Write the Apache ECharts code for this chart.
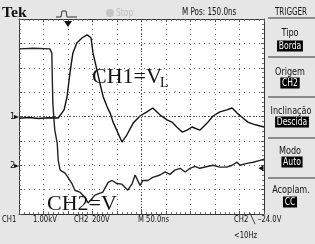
<!DOCTYPE html>
<html>
<head>
<meta charset="utf-8">
<script src="https://cdn.jsdelivr.net/npm/echarts@6/dist/echarts.min.js"></script>
<style>
  html, body { margin: 0; background: #e6e6e6; }
  #scope { width: 315px; height: 244px; }
</style>
</head>
<body>
<div id="scope"></div>
<script>
// time base 50 ns/div, 10 divisions on screen
const timeMax = 500
const timeStep = 50
// CH1: 1.00 kV/div, ground at centre
const ch1Time = [0, 20, 40, 60, 80, 84, 92, 98, 104, 110, 118, 129, 139, 143, 147, 151, 159, 165, 172, 180, 186, 192, 202, 210, 220, 233, 247, 261, 273, 288, 302, 312, 322, 333, 343, 353, 369, 384, 396, 410, 424, 435, 445, 457, 467, 478, 492, 500]
const ch1kV = [-0.07, -0.04, -0.08, -0.05, -0.06, -0.05, 0.27, 0.8, 1.79, 2.61, 3.02, 3.23, 3.35, 3.35, 3.23, 2.61, 1.91, 1.38, 0.8, 0.39, 0.14, -0.23, -0.68, -1.05, -0.76, -0.27, 0.02, 0.19, 0.35, 0.06, -0.14, -0.23, -0.43, -0.64, -0.56, -0.43, -0.56, -0.27, 0.02, 0.19, 0.27, 0.35, 0.14, -0.06, -0.23, -0.31, -0.39, -0.43]
// CH2: 200 V/div, ground two divisions below centre
const ch2Time = [0, 30, 63, 67, 69, 73, 78, 80, 84, 94, 100, 108, 114, 124, 135, 141, 155, 171, 182, 190, 200, 210, 222, 231, 237, 247, 253, 263, 273, 288, 298, 308, 318, 329, 339, 349, 359, 369, 384, 396, 410, 424, 435, 445, 451, 465, 478, 492, 500]
const ch2V = [955, 960, 955, 920, 510, 290, 180, 40, -40, -65, -100, -150, -205, -220, -265, -310, -245, -220, -140, -125, -150, -155, -205, -150, -80, -165, -125, -125, -100, -80, -55, -75, -40, -25, -55, -25, -10, -25, -10, 0, -15, -15, 0, 25, 0, 15, 25, 40, 50]
const ch1Scale = 1.0
const ch2Scale = 200
const ch2Ground = -2
const triggerTime = 100
const triggerLevel = -24

const narrow = '"Liberation Sans Narrow", "DejaVu Sans Condensed", "Liberation Sans", sans-serif'
const serif = '"Liberation Serif", "DejaVu Serif", serif'

const edgeAxis = (extra) => Object.assign({
  type: 'value', min: 0, max: timeMax, interval: timeStep,
  axisLine: { show: true, onZero: false, lineStyle: { color: '#333', width: 1 } },
  axisTick: { show: true, inside: true, length: 3, lineStyle: { color: '#555' } },
  minorTick: { show: true, splitNumber: 5, length: 2, lineStyle: { color: '#777' } },
  axisLabel: { show: false }, splitLine: { show: false }
}, extra)
const edgeY = (extra) => edgeAxis(Object.assign({ min: -4, max: 4, interval: 1 }, extra))

// status/menu text is a condensed bitmap-like sans, so squeeze it
const txt = (x, y, text, opt = {}, sx = 0.8) => ({
  type: 'text', x, y, z: 20, scaleX: sx,
  style: Object.assign({ text, fill: '#111', font: '9.5px ' + narrow, textVerticalAlign: 'middle' }, opt)
})
const big = (x, y, text, size) => txt(x, y, text, { font: size + 'px ' + serif }, 1)
const menu = (x, y, text) => txt(x, y, text, { textAlign: 'center', font: '10px ' + narrow }, 0.9)
const box = (x, y, text) => txt(x, y, text, { fill: '#fff', backgroundColor: '#000', padding: [1, 2, 0, 2], textAlign: 'center', font: '10px ' + narrow }, 0.85)
const sep = (y) => ({ type: 'line', shape: { x1: 268, y1: y, x2: 315, y2: y }, style: { stroke: '#333', lineWidth: 1 }, z: 20 })

const chart = echarts.init(document.getElementById('scope'), null, { renderer: 'canvas' })
chart.setOption({
  backgroundColor: '#e6e6e6',
  animation: false,
  grid: { left: 19, top: 19, width: 245, height: 195, show: true, backgroundColor: '#fff', borderWidth: 0 },
  xAxis: [
    { type: 'value', min: 0, max: timeMax, interval: timeStep, axisLine: { show: false }, axisTick: { show: false },
      axisLabel: { show: false }, splitLine: { show: true, lineStyle: { color: '#666', type: [1, 4], width: 1 } } },
    edgeAxis({ position: 'top' }),
    edgeAxis({ position: 'bottom' })
  ],
  yAxis: [
    { type: 'value', min: -4, max: 4, interval: 1, axisLine: { show: false }, axisTick: { show: false },
      axisLabel: { show: false }, splitLine: { show: true, lineStyle: { color: '#666', type: [1, 4], width: 1 } } },
    edgeY({ position: 'left' }),
    edgeY({ position: 'right' })
  ],
  series: [
    {
      name: 'CH1', type: 'line', showSymbol: false, symbol: 'none',
      data: ch1Time.map((t, i) => [t, ch1kV[i] / ch1Scale]),
      lineStyle: { color: '#111', width: 1.4 },
      markLine: {
        silent: true, symbol: 'none', label: { show: false },
        lineStyle: { color: '#444', type: [1, 2], width: 1 },
        data: [{ xAxis: timeMax / 2 }, { yAxis: 0 }]
      },
      markPoint: {
        silent: true, symbol: 'triangle', symbolRotate: 180, symbolSize: [8, 6],
        itemStyle: { color: '#111' }, label: { show: false },
        data: [{ coord: [triggerTime, 3.8] }]
      }
    },
    {
      name: 'CH2', type: 'line', showSymbol: false, symbol: 'none',
      data: ch2Time.map((t, i) => [t, ch2V[i] / ch2Scale + ch2Ground]),
      lineStyle: { color: '#222', width: 1.4 },
      markPoint: {
        silent: true, symbol: 'triangle', symbolRotate: 90, symbolSize: [6, 5], symbolOffset: [-3, 0],
        itemStyle: { color: '#111' }, label: { show: false },
        data: [{ coord: [timeMax, triggerLevel / ch2Scale + ch2Ground] }]
      }
    }
  ],
  graphic: [
    txt(2, 13, 'Tek', { font: 'bold 15px ' + serif }, 1.05),
    { type: 'polyline', z: 20, shape: { points: [[56, 17], [61, 17], [62, 11], [66, 11], [67, 17], [77, 17]] }, style: { stroke: '#333', lineWidth: 1, fill: null } },
    { type: 'circle', z: 20, shape: { cx: 110, cy: 13, r: 4 }, style: { fill: '#c4c4c4' } },
    txt(116, 13, 'Stop', { fill: '#bdbdbd', font: '10.5px ' + narrow }),
    txt(182, 12, 'M Pos: 150.0ns', { font: '10px ' + narrow }),
    txt(291, 12, 'TRIGGER', { textAlign: 'center', font: '10px ' + narrow }),
    sep(18), sep(57), sep(97), sep(138), sep(178),
    menu(290, 33, 'Tipo'), box(290, 46, 'Borda'),
    menu(290, 72, 'Origem'), box(290, 83, 'CH2'),
    menu(291, 111, 'Inclinação'), box(292, 122, 'Descida'),
    menu(290, 151, 'Modo'), box(292, 162, 'Auto'),
    menu(291, 190, 'Acoplam.'), box(290, 202, 'CC'),
    txt(10, 117, '1', { font: '9px ' + narrow }, 1),
    { type: 'polygon', z: 20, shape: { points: [[14, 115], [19, 117], [14, 119]] }, style: { fill: '#111' } },
    txt(10, 166, '2', { font: '9px ' + narrow }, 1),
    { type: 'polygon', z: 20, shape: { points: [[14, 164], [19, 166], [14, 168]] }, style: { fill: '#111' } },
    big(92, 77, 'CH1=V', 22),
    big(160, 83, 'L', 14),
    txt(174, 90, '.', { font: '9px ' + serif, fill: '#555' }, 1),
    big(47, 204, 'CH2=V', 22),
    txt(2, 220, 'CH1'), txt(33, 220, '1.00kV'),
    txt(74, 220, 'CH2'), txt(92, 220, '200V'),
    txt(138, 220, 'M 50.0ns'),
    txt(234, 220, 'CH2'), txt(250, 220, '\u2572', {}, 1), txt(258, 220, '\u201324.0V'),
    txt(234, 236, '<10Hz')
  ]
})
</script>
</body>
</html>
